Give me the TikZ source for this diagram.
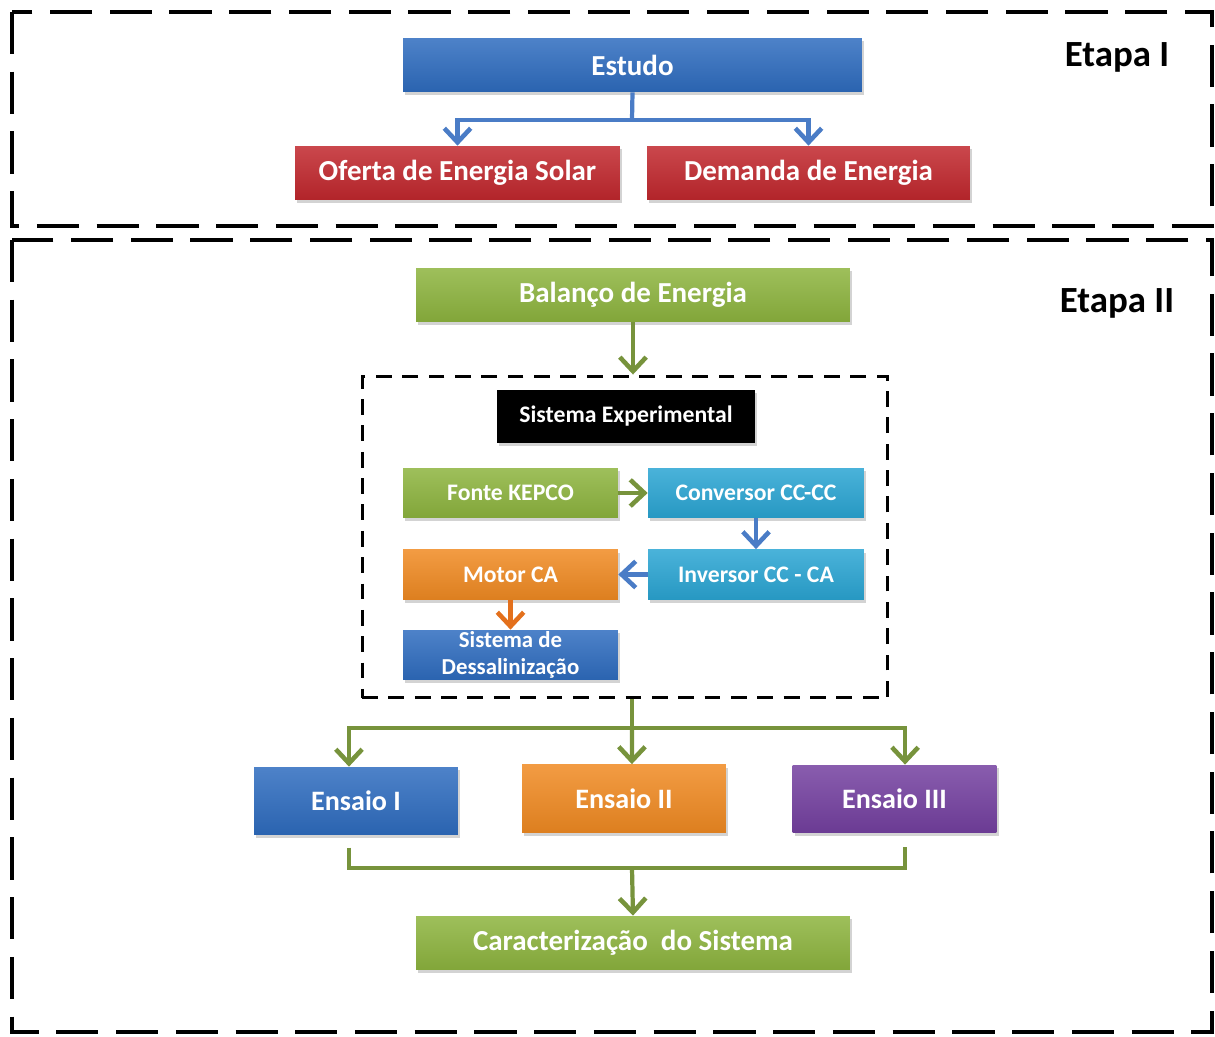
\documentclass[tikz,border=0pt]{standalone}
\usepackage{fontspec}
\setmainfont{Carlito}
\usetikzlibrary{positioning, arrows.meta, shadows}

\definecolor{azul}{HTML}{2E6CBF}
\definecolor{vermelho}{HTML}{C1272D}
\definecolor{verde}{HTML}{8DB43E}
\definecolor{ciano}{HTML}{2AA5D3}
\definecolor{laranja}{HTML}{F08A22}
\definecolor{roxo}{HTML}{7440A0}
\definecolor{setaverde}{HTML}{77933C}
\definecolor{setaazul}{HTML}{4A7CC6}
\definecolor{setalaranja}{HTML}{E3701C}

\tikzset{
  caixa/.style={text=white, font=\bfseries, align=center, inner sep=0pt,
    drop shadow={shadow xshift=1.2pt, shadow yshift=-1.8pt, opacity=0.35}},
  cor/.style={caixa, shading=axis, shading angle=0, top color=#1!85!white, bottom color=#1!92!black},
  grande/.style={minimum width=9.18cm, minimum height=1.08cm, font=\bfseries\fontsize{16.5}{18}\selectfont},
  pequena/.style={minimum width=4.3cm, minimum height=1cm, font=\bfseries\fontsize{13.5}{15}\selectfont},
  ensaio/.style={minimum width=4.08cm, minimum height=1.36cm, font=\bfseries\fontsize{16}{18}\selectfont},
  seta/.style={line width=2.4pt, draw=#1, -{Straight Barb[length=8pt, width=15pt, line width=2.6pt]}},
  linha/.style={line width=2.4pt, draw=#1},
  etapa/.style={font=\bfseries\fontsize{21}{24}\selectfont, text=black}
}

\begin{document}
\begin{tikzpicture}[x=0.02cm, y=-0.02cm]
    \useasboundingbox (0,0) rectangle (1215,1037);
    % etapas
    \draw[line width=2.8pt, dash pattern=on 24pt off 10pt] (12,12) rectangle (1212,226);
    \draw[line width=2.8pt, dash pattern=on 24pt off 10pt] (12,240) rectangle (1212,1032);
    \node[etapa] (etapa1) at (1117,57) {Etapa I};
    \node[etapa] (etapa2) at (1117,303) {Etapa II};

    % etapa I
    \node[cor=azul, grande] (estudo) at (632.5,65) {Estudo};
    \node[cor=vermelho, grande, minimum width=6.5cm] (oferta) at (457.5,173) {Oferta de Energia Solar};
    \node[cor=vermelho, grande, minimum width=6.46cm] (demanda) at (808.5,173) {Demanda de Energia};
    \coordinate (j1) at (632,120);
    \draw[linha=setaazul] (estudo.south) -- (j1);
    \draw[seta=setaazul] (j1) -| (oferta.north);
    \draw[seta=setaazul] (j1) -| (demanda.north);

    % etapa II
    \node[cor=verde, grande, minimum width=8.68cm] (balanco) at (633,295) {Balanço de Energia};
    \node[draw, line width=1.7pt, dash pattern=on 9pt off 6pt, minimum width=10.52cm, minimum height=6.44cm] (bloco) at (625,537) {};
    \node[caixa, fill=black, minimum width=5.16cm, minimum height=1.06cm, font=\bfseries\fontsize{13.5}{15}\selectfont] (sistexp) at (626,416.5) {Sistema Experimental};
    \node[cor=verde, pequena] (fonte) at (510.5,493) {Fonte KEPCO};
    \node[cor=ciano, pequena, minimum width=4.32cm] (conversor) at (756,493) {Conversor CC-CC};
    \node[cor=ciano, pequena, minimum width=4.32cm] (inversor) at (756,574.5) {Inversor CC - CA};
    \node[cor=laranja, pequena] (motor) at (510.5,574.5) {Motor CA};
    \node[cor=azul, pequena, font=\bfseries\fontsize{13}{15.5}\selectfont] (dessal) at (510.5,655) {Sistema de\\Dessalinização};
    \draw[seta=setaverde] (balanco.south) -- (balanco.south |- bloco.north);
    \draw[seta=setaverde] (fonte) -- (conversor);
    \draw[seta=setaazul] (conversor) -- (inversor);
    \draw[seta=setaazul] (inversor) -- (motor);
    \draw[seta=setalaranja] (motor) -- (dessal);

    % ensaios
    \node[cor=azul, ensaio] (ensaio1) at (356,801) {Ensaio I};
    \node[cor=laranja, ensaio] (ensaio2) at (624,798.5) {Ensaio II};
    \node[cor=roxo, ensaio] (ensaio3) at (894.5,799) {Ensaio III};
    \node[cor=verde, grande, minimum width=8.68cm] (caract) at (633,943) {Caracterização~ do Sistema};
    \coordinate (j2) at (632,728);
    \coordinate (j3) at (632,868);
    \draw[linha=setaverde] (j2 |- bloco.south) -- (j2);
    \draw[seta=setaverde] (j2) -| ([xshift=-4pt]ensaio1.north);
    \draw[seta=setaverde] (j2) -- ([xshift=4.5pt]ensaio2.north);
    \draw[seta=setaverde] (j2) -| ([xshift=6pt]ensaio3.north);
    \draw[linha=setaverde] ([xshift=-4pt, yshift=-7pt]ensaio1.south) |- (j3);
    \draw[linha=setaverde] ([xshift=6pt, yshift=-8pt]ensaio3.south) |- (j3);
    \draw[seta=setaverde] (j3) -- (caract.north);
\end{tikzpicture}
\end{document}
